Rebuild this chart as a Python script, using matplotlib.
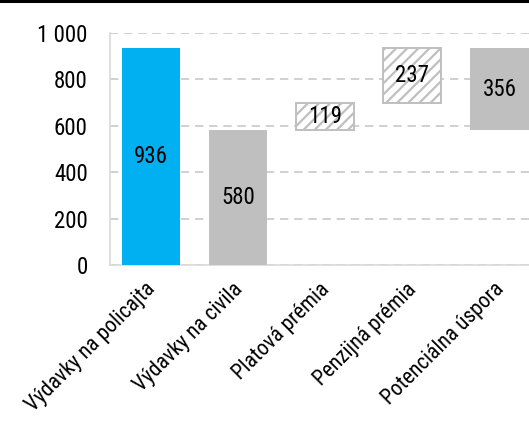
import matplotlib.pyplot as plt
import matplotlib.transforms as mtransforms
from matplotlib.lines import Line2D
from matplotlib.ticker import FuncFormatter

plt.rcParams["font.family"] = ["Roboto Condensed", "DejaVu Sans"]
plt.rcParams["hatch.color"] = "#C4C4C4"
plt.rcParams["hatch.linewidth"] = 1.6

# waterfall: spending per policeman vs. civilian, split into premiums
categories = ["Výdavky na policajta", "Výdavky na civila", "Platová prémia",
              "Penzijná prémia", "Potenciálna úspora"]
values = [936, 580, 119, 237, 356]
bases = [0, 0, 580, 699, 580]
yticks = [0, 200, 400, 600, 800, 1000]

BLUE = "#00B0F0"
GRAY = "#BFBFBF"
GRID = "#C8C8C8"
FS = 16.5

fig = plt.figure(figsize=(5.29, 4.23), dpi=100)
ax = fig.add_axes([0.208, 0.3735, 0.792, 0.5485])

x = list(range(len(categories)))
styles = [
    dict(color=BLUE),
    dict(color=GRAY),
    dict(facecolor="white", edgecolor=GRAY, hatch="///", linewidth=1.4),
    dict(facecolor="white", edgecolor=GRAY, hatch="///", linewidth=1.4),
    dict(color=GRAY),
]
for xi, v, b, st in zip(x, values, bases, styles):
    ax.bar(xi, v, bottom=b, width=0.67, zorder=3, **st)
    ax.text(xi, b + v / 2, str(v), ha="center", va="center",
            fontsize=FS, color="black", zorder=4)

ax.set_xlim(-0.47, 4.34)
ax.set_ylim(0, 1000)
ax.set_yticks(yticks)
ax.yaxis.set_major_formatter(FuncFormatter(lambda v, _: f"{int(v):,}".replace(",", " ")))
ax.set_xticks(x)
ax.set_xticklabels(categories, rotation=45, ha="right", va="top",
                   rotation_mode="anchor", fontsize=15.5)
ax.tick_params(axis="both", length=0, colors="black")
ax.tick_params(axis="y", pad=16, labelsize=FS)
ax.tick_params(axis="x", pad=10)

# nudge the slanted category names a little to the left
shift = mtransforms.ScaledTranslation(-6 / 100, 0, fig.dpi_scale_trans)
for lbl in ax.get_xticklabels():
    lbl.set_transform(lbl.get_transform() + shift)

ax.grid(axis="y", color=GRID, linestyle=(0, (5, 3.5)), linewidth=1.2, zorder=0)
for s in ["top", "right"]:
    ax.spines[s].set_visible(False)
for s in ["left", "bottom"]:
    ax.spines[s].set_color("#D9D9D9")
    ax.spines[s].set_linewidth(1.2)

# rule across the top of the page
fig.add_artist(Line2D([0, 1], [0.997, 0.997], color="black", linewidth=2.2,
                      transform=fig.transFigure))

fig.savefig("out.png", dpi=100)
